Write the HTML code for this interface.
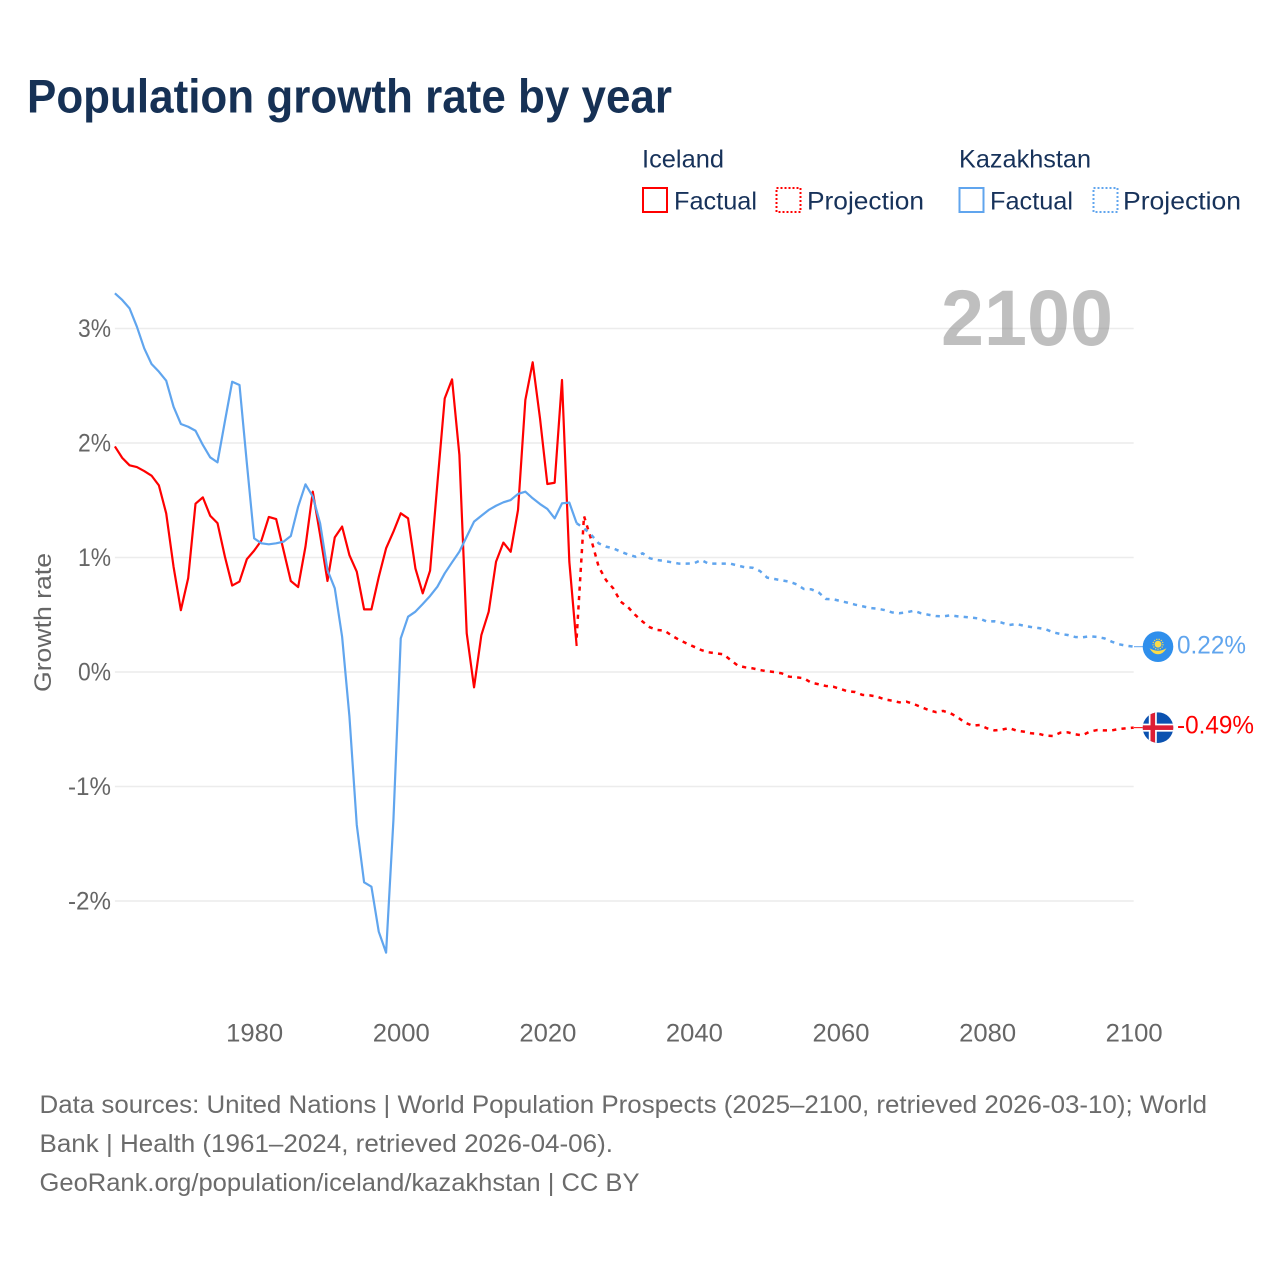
<!DOCTYPE html>
<html lang="en">
<head>
<meta charset="utf-8">
<title>Population growth rate by year</title>
<style>
html,body{margin:0;padding:0;background:#fff;width:1280px;height:1280px;overflow:hidden}
svg{display:block}
text{font-family:"Liberation Sans",sans-serif}
</style>
</head>
<body>
<svg id="chart" width="1280" height="1280" viewBox="0 0 1280 1280" xmlns="http://www.w3.org/2000/svg">
  <text x="27" y="112.5" font-size="47" font-weight="700" fill="#163155" textLength="645" lengthAdjust="spacingAndGlyphs">Population growth rate by year</text>

  <g font-size="25" fill="#17325a">
    <text x="642" y="167.5" textLength="82" lengthAdjust="spacingAndGlyphs">Iceland</text>
    <text x="959" y="167.5" textLength="132" lengthAdjust="spacingAndGlyphs">Kazakhstan</text>
    <rect x="643" y="188" width="24" height="24" fill="none" stroke="#ff0000" stroke-width="2"/>
    <text x="674" y="209.5" textLength="83" lengthAdjust="spacingAndGlyphs">Factual</text>
    <rect x="776.5" y="188" width="24" height="24" fill="none" stroke="#ff0000" stroke-width="2" stroke-dasharray="2 2"/>
    <text x="807" y="209.5" textLength="117" lengthAdjust="spacingAndGlyphs">Projection</text>
    <rect x="959.5" y="188" width="24" height="24" fill="none" stroke="#60a5ee" stroke-width="2"/>
    <text x="990" y="209.5" textLength="83" lengthAdjust="spacingAndGlyphs">Factual</text>
    <rect x="1093.5" y="188" width="24" height="24" fill="none" stroke="#60a5ee" stroke-width="2" stroke-dasharray="2 2"/>
    <text x="1123" y="209.5" textLength="118" lengthAdjust="spacingAndGlyphs">Projection</text>
  </g>

  <g id="grid"></g>
  <text x="941" y="345" font-size="79" font-weight="700" fill="#808080" fill-opacity="0.5" textLength="172" lengthAdjust="spacingAndGlyphs">2100</text>
  <text transform="translate(51,692) rotate(-90)" font-size="24" fill="#666666" textLength="139" lengthAdjust="spacingAndGlyphs">Growth rate</text>
  <g id="y-labels" font-size="25" fill="#666666"></g>
  <g id="x-labels" font-size="25" fill="#666666"></g>

  <g id="series" fill="none" stroke-linejoin="round"></g>

  <g id="end-kazakhstan">
    <line x1="-24" y1="0" x2="-13" y2="0" stroke="#60a5ee" stroke-width="1"/>
    <circle cx="0" cy="0" r="15.3" fill="#2f8fec"/>
    <circle cx="0" cy="-2.5" r="3.4" fill="#fadb4a"/>
    <circle cx="0" cy="-2.5" r="5" fill="none" stroke="#fadb4a" stroke-width="1.2" stroke-dasharray="1.2 1.2"/>
    <path d="M-8.5 1.5 Q-4 4 0 4 Q4 4 8.5 1.5 Q5 7.5 0 7.5 Q-5 7.5 -8.5 1.5 Z" fill="#fadb4a"/>
    <text x="19" y="7" font-size="25" fill="#60a5ee" textLength="69" lengthAdjust="spacingAndGlyphs">0.22%</text>
  </g>
  <g id="end-iceland">
    <line x1="-24" y1="0" x2="-13" y2="0" stroke="#ff0000" stroke-width="1"/>
    <clipPath id="flag-clip"><circle cx="0" cy="0" r="15.3"/></clipPath>
    <g clip-path="url(#flag-clip)">
      <rect x="-16" y="-16" width="32" height="32" fill="#0b52b0"/>
      <rect x="-9.2" y="-16" width="8" height="32" fill="#ffffff"/>
      <rect x="-16" y="-4" width="32" height="8" fill="#ffffff"/>
      <rect x="-7.5" y="-16" width="4.6" height="32" fill="#dc1e35"/>
      <rect x="-16" y="-2.3" width="32" height="4.6" fill="#dc1e35"/>
    </g>
    <text x="19" y="6" font-size="25" fill="#ff0000" textLength="77" lengthAdjust="spacingAndGlyphs">-0.49%</text>
  </g>

  <g font-size="25" fill="#6b6b6b">
    <text x="39.5" y="1113" textLength="1167.5" lengthAdjust="spacingAndGlyphs">Data sources: United Nations | World Population Prospects (2025–2100, retrieved 2026-03-10); World</text>
    <text x="39.5" y="1152" textLength="573.5" lengthAdjust="spacingAndGlyphs">Bank | Health (1961–2024, retrieved 2026-04-06).</text>
    <text x="39.5" y="1191" textLength="600" lengthAdjust="spacingAndGlyphs">GeoRank.org/population/iceland/kazakhstan | CC BY</text>
  </g>
</svg>
<script>
const factualStartYear = 1961;
const projectionStartYear = 2024;
const xTickYears = [1980, 2000, 2020, 2040, 2060, 2080, 2100];
const yTickValues = [3, 2, 1, 0, -1, -2];
const yTickLabels = ["3%", "2%", "1%", "0%", "-1%", "-2%"];

const icelandFactual = [1.97,1.87,1.805,1.79,1.755,1.715,1.63,1.385,0.92,0.54,0.82,1.47,1.525,1.365,1.30,1.01,0.755,0.79,0.985,1.06,1.15,1.354,1.336,1.065,0.795,0.742,1.095,1.575,1.196,0.795,1.176,1.27,1.02,0.876,0.547,0.547,0.83,1.08,1.225,1.386,1.342,0.905,0.687,0.885,1.648,2.39,2.556,1.895,0.338,-0.134,0.323,0.527,0.963,1.13,1.05,1.415,2.376,2.705,2.215,1.642,1.653,2.55,0.963,0.227];

const icelandProjection = [0.3,1.362,1.153,0.92,0.803,0.73,0.614,0.567,0.498,0.44,0.39,0.367,0.361,0.317,0.28,0.25,0.221,0.192,0.172,0.163,0.155,0.105,0.055,0.041,0.032,0.017,0.006,0,-0.012,-0.041,-0.046,-0.055,-0.093,-0.107,-0.122,-0.128,-0.148,-0.169,-0.175,-0.2,-0.204,-0.215,-0.239,-0.25,-0.265,-0.259,-0.28,-0.306,-0.332,-0.35,-0.34,-0.36,-0.396,-0.443,-0.469,-0.463,-0.492,-0.51,-0.504,-0.489,-0.512,-0.521,-0.535,-0.539,-0.556,-0.559,-0.53,-0.527,-0.544,-0.553,-0.521,-0.507,-0.51,-0.51,-0.498,-0.492,-0.486];

const kazakhstanFactual = [3.307,3.249,3.176,3.016,2.827,2.69,2.623,2.544,2.317,2.166,2.142,2.107,1.983,1.875,1.831,2.186,2.535,2.507,1.825,1.167,1.124,1.115,1.124,1.138,1.188,1.444,1.639,1.531,1.298,0.891,0.731,0.308,-0.39,-1.336,-1.837,-1.875,-2.268,-2.451,-1.293,0.294,0.483,0.527,0.594,0.664,0.745,0.862,0.958,1.051,1.182,1.313,1.365,1.415,1.452,1.482,1.502,1.555,1.575,1.517,1.467,1.424,1.342,1.473,1.479,1.299];

const kazakhstanProjection = [1.299,1.255,1.197,1.124,1.095,1.08,1.051,1.027,1.007,1.037,0.993,0.978,0.969,0.958,0.946,0.946,0.949,0.978,0.946,0.946,0.946,0.946,0.929,0.914,0.911,0.882,0.824,0.812,0.8,0.789,0.766,0.725,0.722,0.696,0.638,0.635,0.62,0.605,0.588,0.574,0.559,0.553,0.541,0.521,0.513,0.521,0.535,0.513,0.5,0.489,0.486,0.495,0.486,0.48,0.474,0.466,0.44,0.443,0.431,0.41,0.419,0.404,0.393,0.384,0.373,0.347,0.332,0.323,0.306,0.303,0.312,0.306,0.294,0.265,0.242,0.23,0.221];

const SVG_NS = "http://www.w3.org/2000/svg";
function xScale(year) { return 114.9 + (year - 1961) * (1133.7 - 114.9) / (2100 - 1961); }
function yScale(value) { return 672 - value * 114.5; }
function linePoints(values, startYear) {
  return values.map(function (v, i) {
    return xScale(startYear + i).toFixed(2) + "," + yScale(v).toFixed(2);
  }).join(" ");
}

const gridGroup = document.getElementById("grid");
const yLabelGroup = document.getElementById("y-labels");
yTickValues.forEach(function (value, i) {
  const rule = document.createElementNS(SVG_NS, "line");
  
  
  rule.setAttribute("x1", xScale(1961));
  rule.setAttribute("x2", xScale(2100));
  rule.setAttribute("y1", yScale(value));
  rule.setAttribute("y2", yScale(value));
  rule.setAttribute("stroke", "#ececec");
  rule.setAttribute("stroke-width", "1.5");
  gridGroup.appendChild(rule);

  const label = document.createElementNS(SVG_NS, "text");
  
  
  const labelWidth = yTickLabels[i].length > 2 ? 43 : 33;
  label.setAttribute("x", 111 - labelWidth);
  label.setAttribute("y", yScale(value) + 8.5);
  label.setAttribute("textLength", labelWidth);
  label.setAttribute("lengthAdjust", "spacingAndGlyphs");
  label.textContent = yTickLabels[i];
  yLabelGroup.appendChild(label);
});

const xLabelGroup = document.getElementById("x-labels");
xTickYears.forEach(function (year) {
  const label = document.createElementNS(SVG_NS, "text");
  
  
  label.setAttribute("x", xScale(year) - 28);
  label.setAttribute("y", 1041.5);
  label.setAttribute("textLength", 57);
  label.setAttribute("lengthAdjust", "spacingAndGlyphs");
  label.textContent = String(year);
  xLabelGroup.appendChild(label);
});

const seriesGroup = document.getElementById("series");

const icelandFactualLine = document.createElementNS(SVG_NS, "polyline");


icelandFactualLine.setAttribute("points", linePoints(icelandFactual, factualStartYear));
icelandFactualLine.setAttribute("stroke", "#ff0000");
icelandFactualLine.setAttribute("stroke-width", "2.2");
seriesGroup.appendChild(icelandFactualLine);

const icelandProjectionLine = document.createElementNS(SVG_NS, "polyline");


icelandProjectionLine.setAttribute("points", linePoints(icelandProjection, projectionStartYear));
icelandProjectionLine.setAttribute("stroke", "#ff0000");
icelandProjectionLine.setAttribute("stroke-width", "2.5");
icelandProjectionLine.setAttribute("stroke-dasharray", "4.2 5.2");
seriesGroup.appendChild(icelandProjectionLine);

const kazakhstanFactualLine = document.createElementNS(SVG_NS, "polyline");


kazakhstanFactualLine.setAttribute("points", linePoints(kazakhstanFactual, factualStartYear));
kazakhstanFactualLine.setAttribute("stroke", "#60a5ee");
kazakhstanFactualLine.setAttribute("stroke-width", "2.2");
seriesGroup.appendChild(kazakhstanFactualLine);

const kazakhstanProjectionLine = document.createElementNS(SVG_NS, "polyline");


kazakhstanProjectionLine.setAttribute("points", linePoints(kazakhstanProjection, projectionStartYear));
kazakhstanProjectionLine.setAttribute("stroke", "#60a5ee");
kazakhstanProjectionLine.setAttribute("stroke-width", "2.5");
kazakhstanProjectionLine.setAttribute("stroke-dasharray", "4.2 5.2");
seriesGroup.appendChild(kazakhstanProjectionLine);

document.getElementById("end-kazakhstan").setAttribute("transform",
  "translate(" + (xScale(2100) + 24.3) + "," + yScale(kazakhstanProjection[kazakhstanProjection.length - 1]) + ")");
document.getElementById("end-iceland").setAttribute("transform",
  "translate(" + (xScale(2100) + 24.3) + "," + yScale(icelandProjection[icelandProjection.length - 1]) + ")");
</script>
</body>
</html>
